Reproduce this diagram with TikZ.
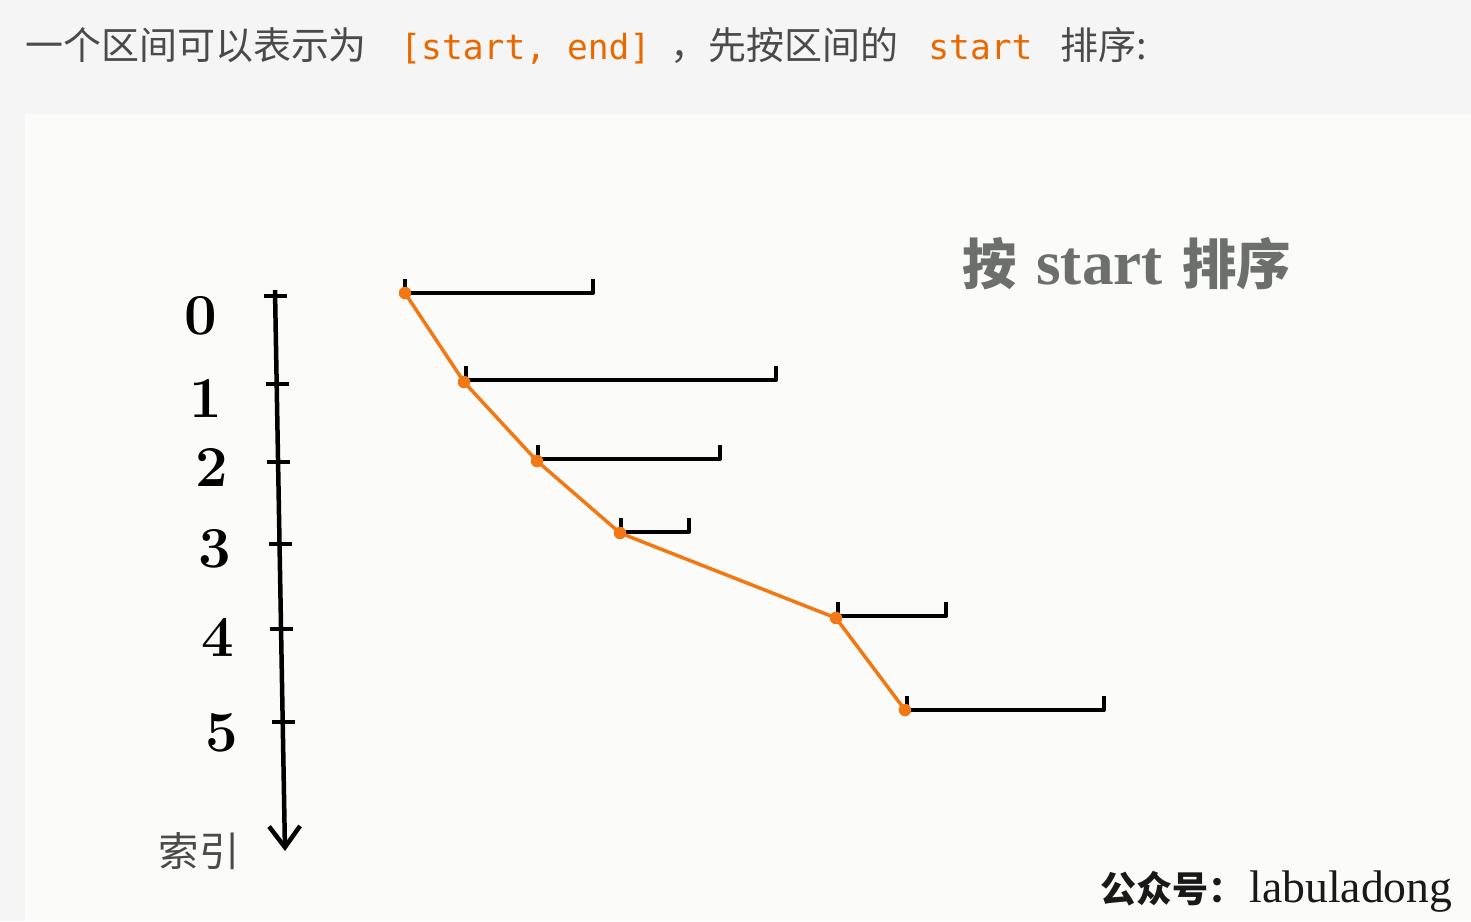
\documentclass[tikz,border=0pt]{standalone}
\usepackage{fontspec}
\usepackage{xcolor}
\newfontfamily\cjk{Noto Sans CJK SC}
\newfontfamily\codefont{DejaVu Sans Mono}
\newfontfamily\seriffont{Liberation Serif}
\usepackage{tikz}
\usetikzlibrary{arrows.meta}
\usetikzlibrary{calc}
\definecolor{pagegray}{HTML}{F5F5F5}
\definecolor{paper}{HTML}{FBFBF9}
\definecolor{textgray}{HTML}{4A4A4A}
\definecolor{codeorange}{HTML}{E96900}
\definecolor{traceorange}{HTML}{F27814}
\definecolor{titlegray}{HTML}{6C6F6B}
\newcommand{\fs}[1]{\fontsize{#1}{1.2\dimexpr#1\relax}\selectfont}
\tikzset{
  captxt/.style={anchor=base west,inner sep=0pt,text=textgray,font=\cjk\fs{21.6pt}},
  codetxt/.style={anchor=base west,inner sep=0pt,text=codeorange,font=\codefont\fs{19.7pt}},
  axisline/.style={line width=0.09cm,-{Straight Barb[length=0.42cm,width=0.62cm]}},
  tickmark/.style={line width=0.08cm},
  digit/.style={inner sep=0pt,font=\bfseries\fs{33pt}},
  ivl/.style={line width=0.08cm,line join=round},
  startdot/.style={circle,fill=traceorange,inner sep=0pt,minimum size=0.25cm},
  trace/.style={traceorange,line width=0.07cm,line join=round},
}

\begin{document}
\begin{tikzpicture}[x=0.02cm,y=-0.02cm]
\useasboundingbox (0,0) rectangle (1471,921);
\fill[pagegray] (0,0) rectangle (1471,921);
\fill[paper] (25,114) rectangle (1471,921);
% caption line above the picture
\node[captxt] (cap1) at (25,59) {一个区间可以表示为};
\node[codetxt] (code1) at (400,59) {[start, end]};
\node[captxt] (comma) at (670,59) {，};
\node[captxt] (cap2) at (708,59) {先按区间的};
\node[codetxt] (code2) at (928,59) {start};
\node[captxt] (cap3) at (1060,59) {排序:};
% index axis
\coordinate (axtop) at (275,290);
\coordinate (axend) at (285,851);
\draw[axisline] (axtop) -- (axend);
\foreach \i/\y in {0/296,1/384,2/462,3/544,4/629,5/722}{
  \pgfmathsetmacro{\ax}{275+(\y-290)*10/561}
  \coordinate (t\i) at (\ax,\y);
  \draw[tickmark] ($(t\i)+(-11,0)$) -- ($(t\i)+(12,0)$);
}
\foreach \i/\x/\y in {0/201/316,1/206/398,2/212/467,3/215/549,4/218/637,5/222/733}
  \node[digit] (d\i) at (\x,\y) {\i};
\node[text=textgray,font=\cjk\fs{23pt}] (idx) at (199,851) {索引};
% intervals [start, end]
\foreach \i/\s/\e/\y in {0/405/593/293,1/466/776/380,2/538/720/459,3/621/689/532,4/838/946/616,5/907/1104/710}{
  \coordinate (s\i) at (\s,\y);
  \coordinate (e\i) at (\e,\y);
  \draw[ivl] ($(s\i)+(0,-14)$) -- (s\i) -- (e\i) -- ($(e\i)+(0,-14)$);
}
% sorted starts
\foreach \i/\x/\y in {0/405/293,1/464/382,2/537/461,3/620/533,4/836/618,5/905/710}
  \node[startdot] (p\i) at (\x,\y) {};
\draw[trace] (p0.center) -- (p1.center) -- (p2.center) -- (p3.center) -- (p4.center) -- (p5.center);
% title and watermark
\node[anchor=base west,inner sep=0pt,text=titlegray,font=\cjk\bfseries\fs{31pt}] (t1) at (962,284) {按};
\node[anchor=base west,inner sep=0pt,text=titlegray,font=\seriffont\bfseries\fs{36pt}] (t2) at (1036,284) {start};
\node[anchor=base west,inner sep=0pt,text=titlegray,font=\cjk\bfseries\fs{31pt}] (t3) at (1182,284) {排序};
\node[anchor=base west,inner sep=0pt,text=black!90,font=\cjk\bfseries\fs{20.5pt}] (w1) at (1100,902) {公众号：};
\node[anchor=base west,inner sep=0pt,text=black!90,font=\seriffont\fs{26pt}] (w2) at (1249,902) {labuladong};
\end{tikzpicture}
\end{document}
